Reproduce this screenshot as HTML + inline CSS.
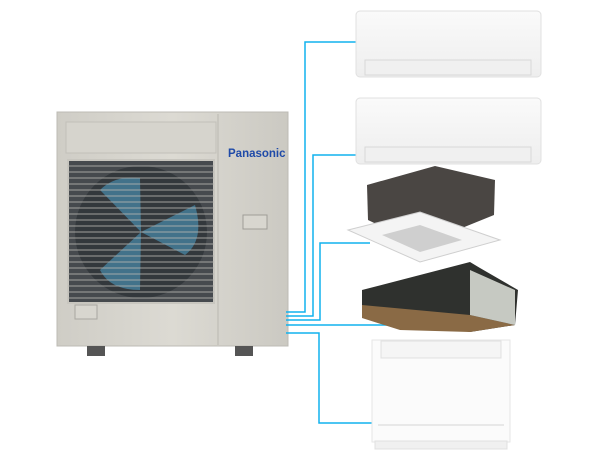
<!DOCTYPE html>
<html><head><style>
body{margin:0;background:#fff;width:613px;height:460px;overflow:hidden;position:relative;font-family:"Liberation Sans",sans-serif}
.a{position:absolute}
</style></head><body>
<svg class="a" style="left:0;top:0" width="613" height="460">
<defs>
<linearGradient id="ou" x1="0" x2="1"><stop offset="0" stop-color="#cfcdc6"/><stop offset="0.5" stop-color="#dcdad3"/><stop offset="1" stop-color="#cbc9c2"/></linearGradient>
<linearGradient id="wu" x1="0" y1="0" x2="0" y2="1"><stop offset="0" stop-color="#fafafa"/><stop offset="1" stop-color="#eeeeee"/></linearGradient>
</defs>
<rect x="57" y="112" width="231" height="234" fill="url(#ou)" stroke="#bdbbb4"/>
<rect x="66" y="122" width="150" height="31" fill="#d6d4cd" stroke="#c2c0b9"/>
<line x1="218" y1="114" x2="218" y2="345" stroke="#bab8b1"/>
<rect x="68" y="160" width="146" height="143" fill="#464a4e" stroke="#c8c6bf" stroke-width="2"/>
<circle cx="141" cy="232" r="66" fill="#33383c"/>
<path d="M141 232 L100 190 Q115 175 140 178 Z" fill="#42728a"/>
<path d="M141 232 L195 205 Q205 240 185 255 Z" fill="#42728a"/>
<path d="M141 232 L140 290 Q110 290 100 270 Z" fill="#42728a"/>
<g stroke="#b5b4af" stroke-width="0.9" opacity="0.85">
<line x1="68" y1="166" x2="214" y2="166"/><line x1="68" y1="172" x2="214" y2="172"/><line x1="68" y1="178" x2="214" y2="178"/><line x1="68" y1="184" x2="214" y2="184"/><line x1="68" y1="190" x2="214" y2="190"/><line x1="68" y1="196" x2="214" y2="196"/><line x1="68" y1="202" x2="214" y2="202"/><line x1="68" y1="208" x2="214" y2="208"/><line x1="68" y1="214" x2="214" y2="214"/><line x1="68" y1="220" x2="214" y2="220"/><line x1="68" y1="226" x2="214" y2="226"/><line x1="68" y1="232" x2="214" y2="232"/><line x1="68" y1="238" x2="214" y2="238"/><line x1="68" y1="244" x2="214" y2="244"/><line x1="68" y1="250" x2="214" y2="250"/><line x1="68" y1="256" x2="214" y2="256"/><line x1="68" y1="262" x2="214" y2="262"/><line x1="68" y1="268" x2="214" y2="268"/><line x1="68" y1="274" x2="214" y2="274"/><line x1="68" y1="280" x2="214" y2="280"/><line x1="68" y1="286" x2="214" y2="286"/><line x1="68" y1="292" x2="214" y2="292"/><line x1="68" y1="298" x2="214" y2="298"/>
</g>
<rect x="243" y="215" width="24" height="14" fill="#d8d6cf" stroke="#9f9d97"/>
<rect x="75" y="305" width="22" height="14" fill="#d8d6cf" stroke="#a9a7a1"/>
<rect x="87" y="346" width="18" height="10" fill="#555"/>
<rect x="235" y="346" width="18" height="10" fill="#555"/>
<text x="228" y="157" font-size="11.5" font-weight="bold" fill="#1f4aa8" font-family="Liberation Sans, sans-serif">Panasonic</text>
<g fill="none" stroke="#10b2ee" stroke-width="1.5">
<polyline points="357,42 305,42 305,312 286,312"/>
<polyline points="357,155 313,155 313,316 286,316"/>
<polyline points="370,243 320,243 320,320 286,320"/>
<polyline points="395,325 286,325"/>
<polyline points="372,423 319,423 319,333 286,333"/>
</g>
<rect x="356" y="11" width="185" height="66" rx="4" fill="url(#wu)" stroke="#e0e0e0"/>
<rect x="365" y="60" width="166" height="15" fill="#f0f0f0" stroke="#d8d8d8"/>
<rect x="356" y="98" width="185" height="66" rx="4" fill="url(#wu)" stroke="#e0e0e0"/>
<rect x="365" y="147" width="166" height="15" fill="#f0f0f0" stroke="#d8d8d8"/>
<polygon points="367,185 435,166 495,180 494,215 420,245 368,220" fill="#4a4643"/>
<polygon points="348,230 420,212 500,240 420,262" fill="#f4f4f4" stroke="#cfcfcf"/>
<polygon points="382,235 420,225 462,240 420,252" fill="#cfcfcf"/>
<polygon points="362,290 470,262 480,268 518,290 515,325 470,332 362,315" fill="#2f312e"/>
<polygon points="362,305 470,315 515,325 470,332 400,330 362,318" fill="#8a6a45"/>
<polygon points="470,270 515,290 515,325 470,315" fill="#c6c9c2"/>
<rect x="372" y="340" width="138" height="102" fill="#fbfbfb" stroke="#e6e6e6"/>
<rect x="375" y="441" width="132" height="8" fill="#f0f0f0" stroke="#e0e0e0"/>
<rect x="381" y="341" width="120" height="17" fill="#f5f5f5" stroke="#e0e0e0"/>
<line x1="378" y1="425" x2="504" y2="425" stroke="#d6d6d6"/>
</svg>
</body></html>
